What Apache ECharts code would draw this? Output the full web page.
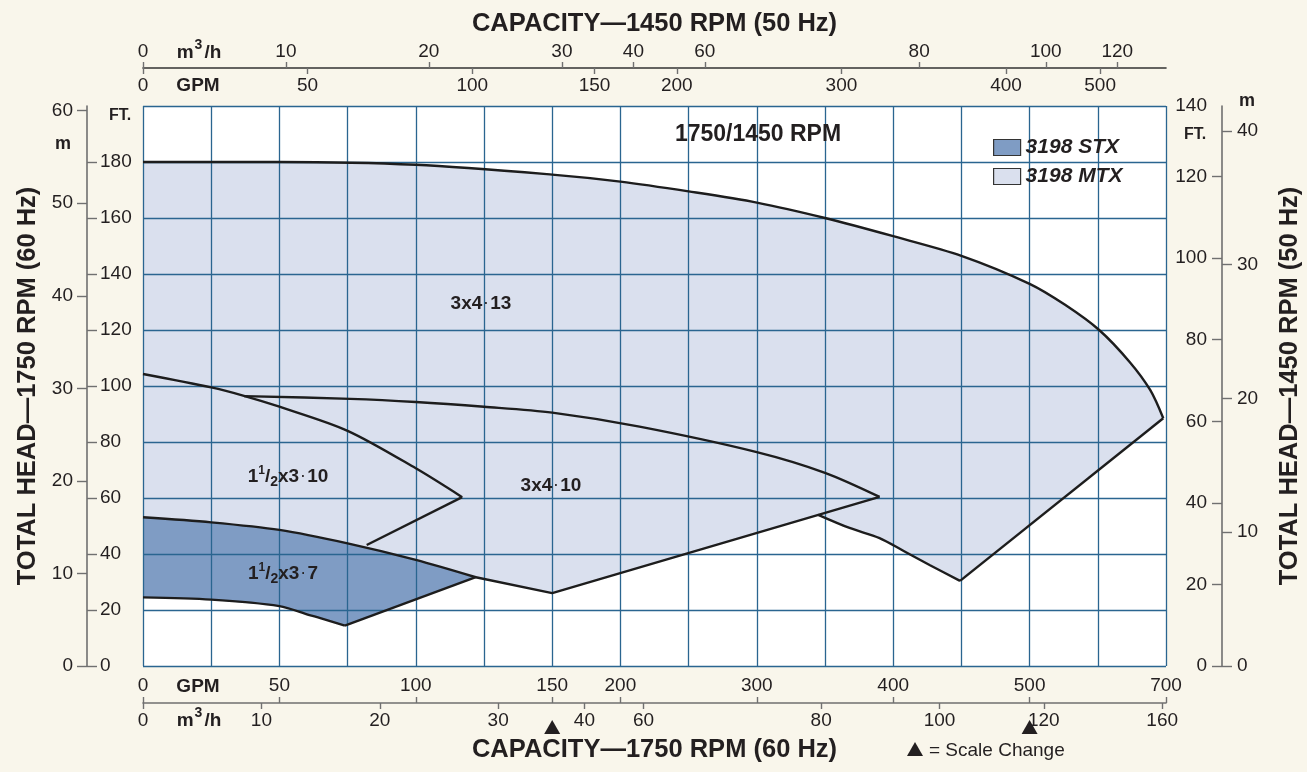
<!DOCTYPE html>
<html><head><meta charset="utf-8">
<script src="https://cdn.jsdelivr.net/npm/echarts@6/dist/echarts.min.js"></script>
<style>html,body{margin:0;padding:0;background:#f9f6eb;}#c{width:1307px;height:772px;}</style>
</head><body><div id="c"></div>
<script>
// ---------------- DATA ----------------
// x in GPM (1750 RPM, 60 Hz), y in feet of head (1750 RPM)
const bottomGpmTicks = [0, 50, 100, 150, 200, 300, 400, 500, 700];
const bottomM3hTicks = [0, 10, 20, 30, 40, 50, 80, 100, 120, 160];
const bottomM3hLabels = ['0', '10', '20', '30', '40', '60', '80', '100', '120', '160'];
const topGpmTicks = [0, 50, 100, 150, 200, 300, 400, 500];
const topM3hTicks = [0, 10, 20, 30, 40, 50, 80, 100, 120];
const topM3hLabels = ['0', '10', '20', '30', '40', '60', '80', '100', '120'];
const leftFtTicks = [0, 20, 40, 60, 80, 100, 120, 140, 160, 180];
const leftMTicks = [0, 10, 20, 30, 40, 50, 60];
const rightFtTicks = [0, 20, 40, 60, 80, 100, 120, 140];
const rightMTicks = [0, 10, 20, 30, 40];
const scaleChangesGpm = [150, 500];
// piecewise GPM scale (scale changes) : [GPM, grid division]
const scaleBreaks = [[0, 0], [150, 6], [500, 13], [700, 15]];

const mtx313Upper = [[0,180],[50,180],[100,179],[150,175.5],[200,173],[250,169.5],[300,165.5],[350,160],[400,153.5],[450,146.5],[500,136.5],[552,129],[602,120],[647,108.5],[677,98.5],[696,88.5]];
const mtx313Lower = [[696,88.5],[449,30.4]];
const mtx313Heel = [[449,30.4],[427,36],[408,41],[390,45.7],[368,49.3],[345,54]];
const mtx310Upper = [[37,96.4],[76,95.4],[100,94.3],[125,92.6],[150,90.5],[214,85.5],[300,76.4],[350,69],[390,60.4]];
const mtx310Lower = [[390,60.4],[150,26],[122,31.7]];
const mtx1510Upper = [[0,104.3],[25,99.5],[37,96.5],[50,92.6],[75,84],[100,70.6],[117,60.3]];
const mtx1510Lower = [[117,60.3],[82,43.2]];
const stx157Upper = [[0,53.1],[25,51.3],[50,48.6],[75,43.8],[100,37.9],[122,31.7]];
const stx157Lower = [[122,31.7],[74,14.4]];
const stx157Base = [[74,14.4],[65,17.1],[61,18.2],[50,21.4],[25,23.7],[0,24.5]];

// ---------------- HELPERS ----------------
const M3H_TO_GPM = 4.34;
const HZ_RATIO = 1750 / 1450;
const FT_PER_M = 3.2808;
function gpmToUnit(g) {
  for (let i = 1; i < scaleBreaks.length; i++) {
    const [g0, u0] = scaleBreaks[i - 1], [g1, u1] = scaleBreaks[i];
    if (g <= g1 || i === scaleBreaks.length - 1) return u0 + (g - g0) * (u1 - u0) / (g1 - g0);
  }
}
const toU = p => [gpmToUnit(p[0]), p[1]];
function tickSet(values, labels, conv) {
  const pos = values.map(conv), map = {};
  pos.forEach((p, i) => map[p.toFixed(5)] = labels[i]);
  return { pos, fmt: v => { const s = map[Number(v).toFixed(5)]; return s === undefined ? '' : s; } };
}
const bGpm = tickSet(bottomGpmTicks, bottomGpmTicks.map(String), gpmToUnit);
const bM3h = tickSet(bottomM3hTicks, bottomM3hLabels, m => gpmToUnit(m * M3H_TO_GPM));
const tGpm = tickSet(topGpmTicks, topGpmTicks.map(String), g => gpmToUnit(g * HZ_RATIO));
const tM3h = tickSet(topM3hTicks, topM3hLabels, m => gpmToUnit(m * M3H_TO_GPM * HZ_RATIO));

const FT_MAX = 200;
const LEFT_M_MAX = 60.5;
const RIGHT_FT_MAX = FT_MAX / (HZ_RATIO * HZ_RATIO);
const RIGHT_M_MAX = RIGHT_FT_MAX / FT_PER_M;

const FONT = "'Liberation Sans', Arial, Helvetica, sans-serif";
const INK = '#231f20';
const AX = '#707070';
const GRIDC = '#2a6590';
const LIGHT = '#dae0ee';
const DARK = '#7f9cc4';
const LINE = '#1d1d1d';

const mtxPoly = [].concat(mtx313Upper, mtx313Heel, mtx310Lower.slice(1), stx157Upper.slice(0, -1).reverse());
const stxPoly = [].concat(stx157Upper, stx157Lower.slice(1), stx157Base.slice(1));

function polySeries(name, pts, color) {
  const d = pts.map(toU);
  return {
    type: 'custom', name, data: d, xAxisIndex: 0, yAxisIndex: 0, z: -1, silent: true,
    itemStyle: { color, borderColor: '#333', borderWidth: 1 },
    renderItem: (params, api) => {
      if (params.dataIndex !== 0) return null;
      return { type: 'polygon', shape: { points: d.map(p => api.coord(p)) }, style: { fill: color } };
    }
  };
}
function lineSeries(pts, smooth) {
  return {
    type: 'line', data: pts.map(toU), xAxisIndex: 0, yAxisIndex: 0, symbol: 'none', showSymbol: false,
    smooth: smooth ? 0.3 : false, silent: true, z: 4,
    lineStyle: { color: LINE, width: 2.4 }
  };
}

const tickStyle = { color: AX, width: 1.4 };
const lblStyle = { fontSize: 19, color: INK, fontFamily: FONT };
const titleStyle = { fontSize: 25.5, fontWeight: 'bold', color: INK, fontFamily: FONT };

const chart = echarts.init(document.getElementById('c'), null, { renderer: 'canvas' });
const option = {
  backgroundColor: '#f9f6eb',
  animation: false,
  textStyle: { fontFamily: FONT },
  grid: { left: 143, right: 141, top: 106, bottom: 106, show: true, backgroundColor: '#ffffff', borderWidth: 0, z: -5, containLabel: false, outerBoundsMode: 'none' },
  legend: {
    left: 993, top: 137, padding: 0, orient: 'vertical', icon: 'rect', itemWidth: 27, itemHeight: 16, itemGap: 8,
    selectedMode: false,
    itemStyle: { borderColor: '#333', borderWidth: 1.2 },
    textStyle: { fontSize: 21, fontStyle: 'italic', fontWeight: 'bold', color: INK, fontFamily: FONT },
    data: ['3198 STX', '3198 MTX']
  },
  xAxis: [
    { type: 'value', min: 0, max: 15, interval: 1, position: 'bottom',
      axisLine: { show: false }, axisTick: { show: false }, axisLabel: { show: false },
      splitLine: { show: true, lineStyle: { color: GRIDC, width: 1.3 } } },
    { type: 'value', min: 0, max: 15, position: 'bottom', offset: 37,
      axisLine: { show: true, onZero: false, lineStyle: { color: AX, width: 1.6 } },
      axisTick: { show: true, inside: true, length: 6, customValues: bGpm.pos, lineStyle: tickStyle },
      axisLabel: Object.assign({ inside: true, margin: 8, customValues: bGpm.pos, formatter: bGpm.fmt }, lblStyle),
      splitLine: { show: false } },
    { type: 'value', min: 0, max: 15, position: 'bottom', offset: 37,
      axisLine: { show: false, onZero: false },
      axisTick: { show: true, length: 6, customValues: bM3h.pos, lineStyle: tickStyle },
      axisLabel: Object.assign({ margin: 8, customValues: bM3h.pos, formatter: bM3h.fmt }, lblStyle),
      splitLine: { show: false },
      name: 'CAPACITY\u20141750 RPM (60 Hz)', nameLocation: 'middle', nameGap: 34, nameTextStyle: titleStyle },
    { type: 'value', min: 0, max: 15, position: 'top', offset: 38,
      axisLine: { show: true, onZero: false, lineStyle: { color: '#333', width: 1.6 } },
      axisTick: { show: true, inside: true, length: 6, customValues: tGpm.pos, lineStyle: tickStyle },
      axisLabel: Object.assign({ inside: true, margin: 8, customValues: tGpm.pos, formatter: tGpm.fmt }, lblStyle),
      splitLine: { show: false } },
    { type: 'value', min: 0, max: 15, position: 'top', offset: 38,
      axisLine: { show: false, onZero: false },
      axisTick: { show: true, length: 6, customValues: tM3h.pos, lineStyle: tickStyle },
      axisLabel: Object.assign({ margin: 7, customValues: tM3h.pos, formatter: tM3h.fmt }, lblStyle),
      splitLine: { show: false },
      name: 'CAPACITY\u20141450 RPM (50 Hz)', nameLocation: 'middle', nameGap: 30, nameTextStyle: titleStyle }
  ],
  yAxis: [
    { type: 'value', min: 0, max: FT_MAX, interval: 20, position: 'left',
      axisLine: { show: false }, axisTick: { show: false }, axisLabel: { show: false },
      splitLine: { show: true, lineStyle: { color: GRIDC, width: 1.3 } } },
    { type: 'value', min: 0, max: FT_MAX, position: 'left', offset: 56,
      axisLine: { show: true, onZero: false, lineStyle: { color: AX, width: 1.6 } },
      axisTick: { show: true, inside: true, length: 10, customValues: leftFtTicks, lineStyle: tickStyle },
      axisLabel: Object.assign({ inside: true, margin: 13, customValues: leftFtTicks }, lblStyle),
      splitLine: { show: false } },
    { type: 'value', min: 0, max: LEFT_M_MAX, position: 'left', offset: 56,
      axisLine: { show: false, onZero: false },
      axisTick: { show: true, length: 10, customValues: leftMTicks, lineStyle: tickStyle },
      axisLabel: Object.assign({ margin: 14, customValues: leftMTicks }, lblStyle),
      splitLine: { show: false },
      name: 'TOTAL HEAD\u20141750 RPM (60 Hz)', nameLocation: 'middle', nameRotate: 90, nameGap: 45, nameTextStyle: titleStyle },
    { type: 'value', min: 0, max: RIGHT_FT_MAX, position: 'right', offset: 56,
      axisLine: { show: true, onZero: false, lineStyle: { color: AX, width: 1.6 } },
      axisTick: { show: true, inside: true, length: 10, customValues: rightFtTicks.filter(v => v <= RIGHT_FT_MAX), lineStyle: tickStyle },
      axisLabel: Object.assign({ inside: true, margin: 15, customValues: rightFtTicks.filter(v => v <= RIGHT_FT_MAX) }, lblStyle),
      splitLine: { show: false },
      name: String(rightFtTicks[rightFtTicks.length - 1]), nameLocation: 'end', nameGap: 0,
      nameTextStyle: Object.assign({ align: 'right', verticalAlign: 'middle', padding: [0, 15, 0, 0] }, lblStyle) },
    { type: 'value', min: 0, max: RIGHT_M_MAX, position: 'right', offset: 56,
      axisLine: { show: false, onZero: false },
      axisTick: { show: true, length: 10, customValues: rightMTicks, lineStyle: tickStyle },
      axisLabel: Object.assign({ margin: 15, customValues: rightMTicks }, lblStyle),
      splitLine: { show: false },
      name: 'TOTAL HEAD\u20141450 RPM (50 Hz)', nameLocation: 'middle', nameRotate: 90, nameGap: 55, nameTextStyle: titleStyle }
  ],
  series: [
    polySeries('3198 MTX', mtxPoly, LIGHT),
    polySeries('3198 STX', stxPoly, DARK),
    lineSeries(mtx313Upper, true),
    lineSeries(mtx313Lower, false),
    lineSeries(mtx313Heel, true),
    lineSeries(mtx310Upper, true),
    lineSeries(mtx310Lower, false),
    lineSeries(mtx1510Upper, true),
    lineSeries(mtx1510Lower, false),
    lineSeries(stx157Upper, true),
    lineSeries(stx157Lower, false),
    lineSeries(stx157Base, true)
  ]
};
chart.setOption(option);

// ---- text annotations ----
const boldTxt = (x, y, text, size, align) => ({
  type: 'text', x, y, z: 100, silent: true,
  style: { text, fill: INK, fontFamily: FONT, fontSize: size, fontWeight: 'bold', align: align || 'center', verticalAlign: 'middle' }
});
const richLbl = (x, y, text) => ({
  type: 'text', x, y, z: 100, silent: true,
  style: {
    text, align: 'center', verticalAlign: 'middle', fill: INK, fontFamily: FONT, fontWeight: 'bold', fontSize: 19,
    rich: {
      n: { fontSize: 19, fontWeight: 'bold', fill: INK, fontFamily: FONT, lineHeight: 24 },
      sup: { fontSize: 12, fontWeight: 'bold', fill: INK, fontFamily: FONT, lineHeight: 24, verticalAlign: 'top' },
      sub: { fontSize: 14, fontWeight: 'bold', fill: INK, fontFamily: FONT, lineHeight: 24, verticalAlign: 'bottom' },
      d: { fontSize: 12, fontWeight: 'bold', fill: INK, fontFamily: FONT, lineHeight: 24, padding: [0, 2, 0, 2] }
    }
  }
});
const m3 = (x, y) => ({
  type: 'text', x, y, z: 100, silent: true,
  style: { text: '{a|m}{s|3}{a|/h}', align: 'center', verticalAlign: 'middle', fill: INK,
    rich: { a: { fontSize: 19, fontWeight: 'bold', fontFamily: FONT, fill: INK, lineHeight: 24, verticalAlign: 'bottom' },
            s: { fontSize: 14, fontWeight: 'bold', fontFamily: FONT, fill: INK, lineHeight: 24, verticalAlign: 'top', padding: [0, 2, 0, 1] } } }
});
const graphics = [
  boldTxt(109, 116, 'FT.', 16, 'left'),
  boldTxt(63, 144, 'm', 18),
  boldTxt(1247, 101, 'm', 18),
  boldTxt(1195, 135, 'FT.', 16),
  boldTxt(198, 687, 'GPM', 19),
  boldTxt(198, 86, 'GPM', 19),
  m3(199, 718), m3(199, 50),
  boldTxt(758, 135, '1750/1450 RPM', 23),
  richLbl(481, 304, '{n|3x4}{d|\u00b7}{n|13}'),
  richLbl(288, 477, '{n|1}{sup|1}{n|/}{sub|2}{n|x3}{d|\u00b7}{n|10}'),
  richLbl(551, 486, '{n|3x4}{d|\u00b7}{n|10}'),
  richLbl(283, 574, '{n|1}{sup|1}{n|/}{sub|2}{n|x3}{d|\u00b7}{n|7}'),
  { type: 'polygon', z: 100, silent: true, shape: { points: [[907, 756], [923, 756], [915, 742]] }, style: { fill: INK } },
  { type: 'text', x: 929, y: 751, z: 100, silent: true, style: { text: '= Scale Change', fill: INK, fontFamily: FONT, fontSize: 19, align: 'left', verticalAlign: 'middle' } }
];
scaleChangesGpm.forEach(g => {
  const x = chart.convertToPixel({ xAxisIndex: 0 }, gpmToUnit(g));
  graphics.push({ type: 'polygon', z: 100, silent: true, shape: { points: [[x - 8, 734], [x + 8, 734], [x, 720]] }, style: { fill: INK } });
});
chart.setOption({ graphic: graphics });
</script></body></html>
